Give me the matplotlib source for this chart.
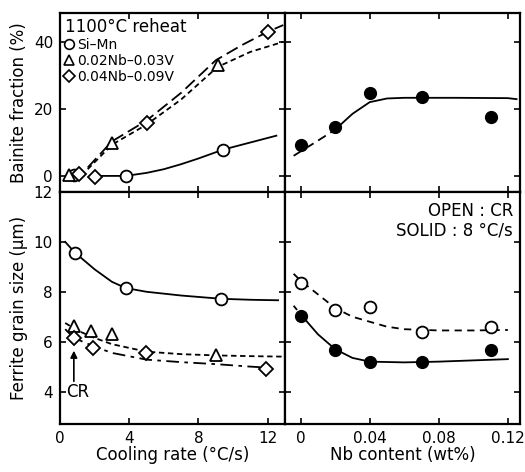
import matplotlib
matplotlib.use('Agg')
import matplotlib.pyplot as plt
from matplotlib.lines import Line2D

# ---- data ----
# bainite fraction vs cooling rate
simn_cr_b = [0.8, 3.8, 9.4]
simn_b = [0.3, 0.0, 7.8]
nb2_cr_b = [0.5, 3.0, 9.1]
nb2_b = [0.4, 9.8, 33.0]
nb4_cr_b = [1.1, 2.0, 5.0, 12.0]
nb4_b = [0.6, -0.3, 15.8, 43.0]

# fitted curves (hand drawn in original)
simn_fit_x = [2.4, 3.8, 5.0, 6.0, 7.0, 8.0, 9.4, 10.5, 12.5]
simn_fit_y = [0.0, 0.0, 0.9, 2.0, 3.5, 5.2, 7.8, 9.3, 12.0]
nb2_fit_x = [1.6, 3.0, 5.0, 7.0, 9.1, 11.0, 12.9]
nb2_fit_y = [2.0, 9.3, 15.3, 22.8, 32.5, 37.0, 40.0]
nb4_fit_x = [1.6, 3.0, 5.0, 7.0, 9.0, 10.5, 12.0, 12.9]
nb4_fit_y = [2.5, 10.3, 16.5, 24.8, 34.5, 39.0, 43.0, 45.0]

# ferrite grain size vs cooling rate
simn_cr_g = [0.86, 3.8, 9.3]
simn_g = [9.57, 8.15, 7.72]
nb2_cr_g = [0.8, 1.8, 3.0, 9.0]
nb2_g = [6.64, 6.41, 6.32, 5.48]
nb4_cr_g = [0.8, 1.9, 4.95, 11.9]
nb4_g = [6.13, 5.76, 5.56, 4.9]

simn_gfit_x = [0.3, 0.86, 2.0, 3.0, 3.8, 5.0, 7.0, 9.3, 11.0, 12.6]
simn_gfit_y = [10.0, 9.57, 8.9, 8.4, 8.15, 8.0, 7.85, 7.72, 7.68, 7.66]
nb2_gfit_x = [0.3, 1.0, 2.0, 3.0, 5.0, 7.0, 9.0, 11.0, 13.0]
nb2_gfit_y = [6.75, 6.45, 6.15, 5.9, 5.6, 5.5, 5.45, 5.42, 5.4]
nb4_gfit_x = [0.3, 0.8, 2.0, 3.0, 5.0, 7.0, 9.0, 11.0, 12.0]
nb4_gfit_y = [6.5, 6.15, 5.8, 5.55, 5.28, 5.18, 5.1, 5.0, 4.96]

# Nb content panels
nb = [0.0, 0.02, 0.04, 0.07, 0.11]
bain_solid = [9.3, 14.6, 24.8, 23.6, 17.6]
bfit_dash_x = [-0.004, 0.01, 0.02]
bfit_dash_y = [6.0, 10.5, 13.8]
bfit_x = [0.02, 0.03, 0.04, 0.05, 0.06, 0.09, 0.12, 0.125]
bfit_y = [13.8, 18.5, 22.0, 23.1, 23.3, 23.3, 23.2, 22.9]

grain_open = [8.37, 7.28, 7.4, 6.4, 6.6]
grain_solid = [7.04, 5.68, 5.17, 5.17, 5.68]
gopen_fit_x = [-0.004, 0.0, 0.01, 0.02, 0.03, 0.04, 0.05, 0.06, 0.08, 0.1, 0.12]
gopen_fit_y = [8.72, 8.45, 7.9, 7.35, 7.0, 6.8, 6.6, 6.5, 6.45, 6.45, 6.47]
gsol_dash_x = [-0.004, 0.0]
gsol_dash_y = [7.44, 7.1]
gsol_fit_x = [0.0, 0.01, 0.02, 0.03, 0.04, 0.06, 0.08, 0.1, 0.12]
gsol_fit_y = [7.1, 6.3, 5.7, 5.35, 5.2, 5.17, 5.2, 5.25, 5.3]

plt.rcParams['font.family'] = 'DejaVu Sans'
fig = plt.figure(figsize=(5.25, 4.72), dpi=100)

L, W1 = 60 / 525, 225 / 525
R, W2 = 285 / 525, 235 / 525
B_bot, H_bot = 1 - 424 / 472, 232 / 472
B_top, H_top = 1 - 192 / 472, 179 / 472

ax_tl = fig.add_axes([L, B_top, W1, H_top])
ax_bl = fig.add_axes([L, B_bot, W1, H_bot])
ax_tr = fig.add_axes([R, B_top, W2, H_top])
ax_br = fig.add_axes([R, B_bot, W2, H_bot])

k = 'black'
lw = 1.3
short = (3, 2)
dashdot = (7, 3, 2, 3)
mopen = dict(mfc='white', mec=k, mew=1.3, ls='none', zorder=3)

for ax in (ax_tl, ax_bl, ax_tr, ax_br):
    for s in ax.spines.values():
        s.set_linewidth(1.6)
    ax.tick_params(direction='in', length=4, width=1.2, labelsize=11,
                   top=True, right=True, pad=5)

# top left: bainite fraction vs cooling rate
ax = ax_tl
ax.plot(simn_fit_x, simn_fit_y, color=k, lw=lw)
ax.plot(nb2_fit_x, nb2_fit_y, color=k, lw=lw, dashes=short)
ax.plot(nb4_fit_x, nb4_fit_y, color=k, lw=lw, dashes=(7, 3))
ax.plot(simn_cr_b, simn_b, marker='o', ms=8.5, **mopen)
ax.plot(nb2_cr_b, nb2_b, marker='^', ms=9, **mopen)
ax.plot(nb4_cr_b, nb4_b, marker='D', ms=7, **mopen)
ax.set_xlim(0, 13)
ax.set_ylim(-4.8, 48.6)
ax.set_xticks([0, 4, 8, 12])
ax.set_yticks([0, 20, 40])
ax.tick_params(labelbottom=False)
ax.set_ylabel('Bainite fraction (%)', fontsize=12, labelpad=4)
handles = [
    Line2D([], [], marker='o', ms=7, mfc='white', mec=k, mew=1.2, ls='none'),
    Line2D([], [], marker='^', ms=7, mfc='white', mec=k, mew=1.2, ls='none'),
    Line2D([], [], marker='D', ms=6, mfc='white', mec=k, mew=1.2, ls='none'),
]
leg = ax.legend(handles, ['Si–Mn', '0.02Nb–0.03V', '0.04Nb–0.09V'],
                title='1100°C reheat', loc='upper left', frameon=False,
                fontsize=10, title_fontsize=12, handlelength=0.6,
                handletextpad=0.3, labelspacing=0.15, borderaxespad=0.15,
                borderpad=0.2, alignment='left')

# bottom left: ferrite grain size vs cooling rate
ax = ax_bl
ax.plot(simn_gfit_x, simn_gfit_y, color=k, lw=lw)
ax.plot(nb2_gfit_x, nb2_gfit_y, color=k, lw=lw, dashes=short)
ax.plot(nb4_gfit_x, nb4_gfit_y, color=k, lw=lw, dashes=dashdot)
ax.plot(simn_cr_g, simn_g, marker='o', ms=8.5, **mopen)
ax.plot(nb2_cr_g, nb2_g, marker='^', ms=9, **mopen)
ax.plot(nb4_cr_g, nb4_g, marker='D', ms=7, **mopen)
ax.annotate('', xy=(0.8, 5.75), xytext=(0.8, 4.3),
            arrowprops=dict(arrowstyle='-|>', color=k, lw=1.2,
                            mutation_scale=10))
ax.text(0.35, 4.0, 'CR', fontsize=12, va='center', ha='left')
ax.set_xlim(0, 13)
ax.set_ylim(2.7, 12)
ax.set_xticks([0, 4, 8, 12])
ax.set_yticks([4, 6, 8, 10, 12])
ax.set_xlabel('Cooling rate (°C/s)', fontsize=12, labelpad=0)
ax.set_ylabel('Ferrite grain size (μm)', fontsize=12, labelpad=4)

# top right: bainite fraction vs Nb content
ax = ax_tr
ax.plot(bfit_dash_x, bfit_dash_y, color=k, lw=lw, dashes=(5, 3))
ax.plot(bfit_x, bfit_y, color=k, lw=lw)
ax.plot(nb, bain_solid, marker='o', ms=8.5, mfc=k, mec=k, ls='none', zorder=3)
ax.set_xlim(-0.009, 0.127)
ax.set_ylim(-4.8, 48.6)
ax.set_xticks([0, 0.04, 0.08, 0.12])
ax.set_yticks([0, 20, 40])
ax.tick_params(labelbottom=False, labelleft=False)

# bottom right: grain size vs Nb content
ax = ax_br
ax.plot(gopen_fit_x, gopen_fit_y, color=k, lw=lw, dashes=(4, 3))
ax.plot(gsol_dash_x, gsol_dash_y, color=k, lw=lw, dashes=(3, 2))
ax.plot(gsol_fit_x, gsol_fit_y, color=k, lw=lw)
ax.plot(nb, grain_open, marker='o', ms=8.5, **mopen)
ax.plot(nb, grain_solid, marker='o', ms=8.5, mfc=k, mec=k, ls='none', zorder=3)
ax.text(0.123, 11.25, 'OPEN : CR', fontsize=12, ha='right', va='center')
ax.text(0.123, 10.45, 'SOLID : 8 °C/s', fontsize=12, ha='right', va='center')
ax.set_xlim(-0.009, 0.127)
ax.set_ylim(2.7, 12)
ax.set_xticks([0, 0.04, 0.08, 0.12])
ax.set_xticklabels(['0', '0.04', '0.08', '0.12'])
ax.set_yticks([4, 6, 8, 10, 12])
ax.tick_params(labelleft=False)
ax.set_xlabel('Nb content (wt%)', fontsize=12, labelpad=0)

fig.savefig('out.png', dpi=100)
